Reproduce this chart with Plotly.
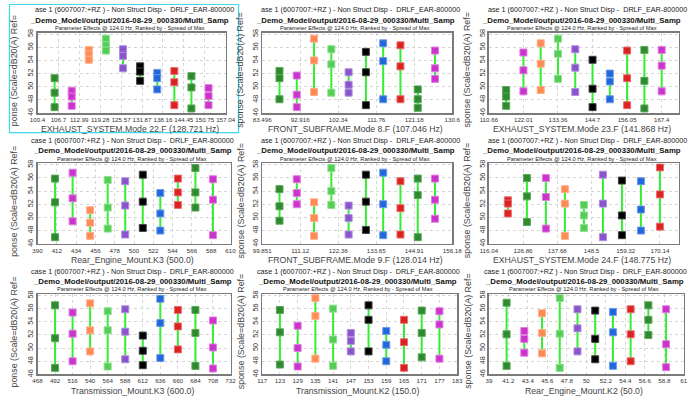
import plotly.graph_objects as go

W, H = 698, 401
FONT = "Liberation Sans, Arial, sans-serif"

# ---------------- data ----------------
title_line1 = "ase 1 (6007007:+RZ ) - Non Struct Disp -  DRLF_EAR-800000"
title_line1b = "case 1 (6007007:+RZ ) - Non Struct Disp -  DRLF_EAR-800000"
title_line2 = "_Demo_Model/output/2016-08-29_000330/Multi_Samp"
title_line3 = "Parameter Effects @ 124.0 Hz, Ranked by - Spread of Max"
ytitle_c1 = "ponse (Scale=dB20(A) Ref="
ytitle_c23 = "sponse (Scale=dB20(A) Ref="
y_ticks = [46, 48, 50, 52, 54, 56, 58]

x_titles = [
    "EXHAUST_SYSTEM.Mode 22.F (128.721 Hz)",
    "FRONT_SUBFRAME.Mode 8.F (107.046 Hz)",
    "EXHAUST_SYSTEM.Mode 23.F (141.868 Hz)",
    "Rear_Engine_Mount.K3 (500.0)",
    "FRONT_SUBFRAME.Mode 9.F (128.014 Hz)",
    "EXHAUST_SYSTEM.Mode 24.F (148.775 Hz)",
    "Transmission_Mount.K3 (600.0)",
    "Transmission_Mount.K2 (150.0)",
    "Rear_Engine_Mount.K2 (50.0)",
]

p1_ticks = ["100.4", "106.7", "112.99", "119.28", "125.57", "131.87", "138.16", "144.45", "150.75", "157.04"]
p2_ticks = ["83.496", "92.916", "102.34", "111.76", "121.18", "130.6"]
p3_ticks = ["110.66", "122.01", "133.36", "144.7", "156.05", "167.4"]
p4_ticks = ["390", "412", "434", "456", "478", "500", "522", "544", "566", "588", "610"]
p5_ticks = ["99.851", "111.12", "122.38", "133.65", "144.91", "156.18"]
p6_ticks = ["116.04", "126.86", "137.68", "148.5", "159.32", "170.14"]
p7_ticks = ["468", "492", "516", "540", "564", "588", "612", "636", "660", "684", "708", "732"]
p8_ticks = ["117", "123", "129", "135", "141", "147", "153", "159", "165", "171", "177", "183"]
p9_ticks = ["39", "41.2", "43.4", "45.6", "47.8", "50", "52.2", "54.4", "56.6", "58.8", "61"]

# tick label positions, in units of the level slot (levels sit at 1..n)
p1_tickpos = [0, 1.222, 2.444, 3.667, 4.889, 6.111, 7.333, 8.556, 9.778, 11]
p2_tickpos = [0, 2.2, 4.4, 6.6, 8.8, 11]
p3_tickpos = [0, 2, 4, 6, 8, 10]
p4_tickpos = [0, 1.1, 2.2, 3.3, 4.4, 5.5, 6.6, 7.7, 8.8, 9.9, 11]
p5_tickpos = [0, 2.2, 4.4, 6.6, 8.8, 11]
p6_tickpos = [0, 1.8, 3.6, 5.4, 7.2, 9.0]
p7_tickpos = [0, 1, 2, 3, 4, 5, 6, 7, 8, 9, 10, 11]
p8_tickpos = [0, 1, 2, 3, 4, 5, 6, 7, 8, 9, 10, 11]
p9_tickpos = [0, 1.1, 2.2, 3.3, 4.4, 5.5, 6.6, 7.7, 8.8, 9.9, 11]

seq10 = ["dg", "mg", "or", "lg", "pu", "bk", "bl", "rd", "dg", "mg"]
seq9 = ["rd", "dg", "mg", "or", "lg", "pu", "bk", "bl", "rd"]

p1_hi = [51.3, 49.4, 55.6, 57.3, 55.7, 53.1, 52.1, 52.4, 51.6, 49.8]
p1_mid = [49.1, 48.5, 54.9, 56.3, 54.7, 52.3, 51.3, 50.7, 49.9, 48.6]
p1_lo = [46.9, 47.1, 54.1, 55.5, 52.8, 50.9, 49.6, 47.2, 46.7, 47.2]

p2_hi = [52.4, 51.7, 57.3, 55.7, 52.2, 55.3, 56.6, 56.3, 49.6, 55.5]
p2_mid = [51.3, 48.8, 54.0, 53.4, 50.3, 52.2, 53.9, 53.1, 48.1, 52.8]
p2_lo = [48.1, 46.9, 49.2, 49.1, 49.1, 47.2, 48.1, 48.1, 46.8, 51.2]

p3_hi = [49.5, 55.2, 56.6, 57.3, 55.7, 54.1, 52.0, 55.5, 55.6, 55.6]
p3_mid = [48.5, 52.5, 53.5, 55.0, 52.9, 49.7, 50.8, 51.3, 50.9, 53.2]
p3_lo = [47.1, 49.3, 49.5, 51.2, 49.2, 46.9, 48.1, 47.2, 46.7, 49.3]

p4_hi = [55.9, 56.8, 51.1, 55.7, 55.5, 56.5, 53.7, 55.9, 57.5, 55.8]
p4_mid = [52.3, 52.9, 49.2, 51.5, 51.8, 52.4, 50.6, 53.8, 53.8, 52.7]
p4_lo = [47.0, 49.4, 47.2, 48.3, 47.4, 48.4, 48.0, 51.9, 51.5, 47.3]

p5_hi = [54.3, 55.8, 52.3, 57.5, 51.8, 56.5, 56.8, 55.5, 55.9, 55.9]
p5_mid = [51.7, 53.7, 49.9, 54.0, 49.9, 52.4, 52.0, 51.4, 53.4, 52.7]
p5_lo = [49.5, 52.0, 47.2, 51.9, 47.4, 48.1, 47.3, 47.4, 47.0, 49.8]

p6_hi = [52.6, 56.0, 56.0, 54.3, 51.9, 56.5, 55.6, 55.5, 57.6]
p6_mid = [52.1, 53.2, 53.1, 52.1, 50.3, 52.1, 50.3, 51.2, 53.5]
p6_lo = [50.6, 49.3, 48.3, 47.2, 48.4, 47.0, 47.3, 48.0, 48.6]

p7_hi = [56.5, 55.4, 56.8, 55.6, 55.9, 51.9, 57.5, 55.8, 55.8, 54.2]
p7_mid = [51.5, 52.2, 52.7, 52.7, 52.5, 49.6, 53.8, 53.3, 52.3, 50.1]
p7_lo = [47.0, 48.0, 49.5, 47.2, 48.3, 47.4, 48.5, 49.8, 47.3, 46.9]

p8_hi = [55.8, 53.4, 57.6, 56.0, 52.3, 56.5, 52.6, 54.3, 55.7, 55.6]
p8_mid = [52.4, 50.0, 54.9, 51.3, 51.1, 54.3, 50.5, 50.9, 52.3, 53.6]
p8_lo = [47.5, 47.2, 48.4, 47.3, 49.5, 49.5, 48.0, 47.0, 48.6, 48.4]

p9_hi = [56.9, 52.6, 55.3, 57.6, 55.9, 55.7, 55.5, 55.9, 56.5, 55.9]
p9_mid = [52.1, 51.4, 52.3, 52.2, 53.0, 51.4, 52.4, 52.1, 54.3, 50.6]
p9_lo = [47.3, 49.3, 49.2, 47.0, 49.5, 48.3, 47.3, 48.0, 52.0, 47.1]

# ---------------- styling ----------------
COLORS = {
    "dg": ("#2f8a2f", "#5aa85a"),
    "mg": ("#cc33cc", "#e07fe0"),
    "or": ("#ff8a55", "#ffb08a"),
    "lg": ("#55cc55", "#8ee08e"),
    "pu": ("#8a55cc", "#b08ee0"),
    "bk": ("#000000", "#444444"),
    "bl": ("#2266dd", "#6f9be8"),
    "rd": ("#dd2020", "#e87070"),
}
LINE_GREEN = "#33ee33"
FRAME = "#7a7a7a"
GRID = "#d6d6d6"

panels = [
    (p1_ticks, p1_tickpos, seq10, p1_hi, p1_mid, p1_lo),
    (p2_ticks, p2_tickpos, seq10, p2_hi, p2_mid, p2_lo),
    (p3_ticks, p3_tickpos, seq10, p3_hi, p3_mid, p3_lo),
    (p4_ticks, p4_tickpos, seq10, p4_hi, p4_mid, p4_lo),
    (p5_ticks, p5_tickpos, seq10, p5_hi, p5_mid, p5_lo),
    (p6_ticks, p6_tickpos, seq9, p6_hi, p6_mid, p6_lo),
    (p7_ticks, p7_tickpos, seq10, p7_hi, p7_mid, p7_lo),
    (p8_ticks, p8_tickpos, seq10, p8_hi, p8_mid, p8_lo),
    (p9_ticks, p9_tickpos, seq10, p9_hi, p9_mid, p9_lo),
]

# plot-frame pixel boxes (left, right, top, bottom)
frames = [
    (29.3, 222.7, 29.3, 111), (260.3, 455.7, 29.3, 111), (493.3, 688.7, 29.3, 111),
    (29.3, 227.7, 162.3, 244), (260.3, 455.7, 162.3, 244), (493.3, 688.7, 162.3, 244),
    (29.3, 227.7, 295.3, 377), (260.3, 460.7, 295.3, 377), (493.3, 693.7, 295.3, 377),
]
col_x0 = [0, 233, 466]
row_y0 = [0, 133, 266]


def px(x):
    return x / W


def py(y):
    return 1 - y / H


fig = go.Figure()
layout = {}
annotations = []

for k, (ticks, tickpos, seq, hi, mid, lo) in enumerate(panels):
    n = k + 1
    xa, ya = f"x{n}" if n > 1 else "x", f"y{n}" if n > 1 else "y"
    levels = list(range(1, len(hi) + 1))
    lx, ly = [], []
    for i, h, l in zip(levels, hi, lo):
        lx += [i, i, None]
        ly += [l, h, None]
    fig.add_trace(go.Scatter(x=lx, y=ly, mode="lines", xaxis=xa, yaxis=ya,
                             line=dict(color=LINE_GREEN, width=2), hoverinfo="skip",
                             showlegend=False))
    mx, my, mc, ml = [], [], [], []
    for i, c, h, m, l in zip(levels, seq, hi, mid, lo):
        for v in (h, m, l):
            mx.append(i)
            my.append(v)
            mc.append(COLORS[c][0])
            ml.append(COLORS[c][1])
    fig.add_trace(go.Scatter(x=mx, y=my, mode="markers", xaxis=xa, yaxis=ya,
                             marker=dict(symbol="square", size=7, color=mc,
                                         line=dict(color=ml, width=1)),
                             showlegend=False))

    left, right, top, bottom = frames[k]
    r, c = divmod(k, 3)
    x0, y0 = col_x0[c], row_y0[r]
    common = dict(showline=True, mirror=True, linecolor=FRAME, linewidth=1.5,
                  showgrid=True, gridcolor=GRID, griddash="dot", gridwidth=1,
                  zeroline=False, ticks="", fixedrange=True)
    layout[f"xaxis{n if n > 1 else ''}"] = dict(
        domain=[px(left), px(right)], range=[0, len(hi) + 1], anchor=ya,
        tickmode="array", tickvals=tickpos, ticktext=ticks, tickangle=0,
        tickfont=dict(family=FONT, size=6.2, color="#333333"), **common)
    layout[f"yaxis{n if n > 1 else ''}"] = dict(
        domain=[py(bottom), py(top)], range=[46, 58.2], anchor=xa,
        tickmode="array", tickvals=y_ticks, ticktext=[str(t) for t in y_ticks],
        tickangle=-90, tickfont=dict(family=FONT, size=7.2, color="#333333"), **common)

    cx = (left + right) / 2 - 2
    line1 = title_line1b if r == 2 or k == 3 else title_line1
    annotations += [
        dict(x=px(x0 + 233), y=py(y0 + 6), text=line1, xanchor="right", yanchor="middle",
             font=dict(family=FONT, size=7.2, color="#222222")),
        dict(x=px(cx), y=py(y0 + 16.5), text="<b>" + title_line2 + "</b>", xanchor="center",
             yanchor="middle", font=dict(family=FONT, size=7.8, color="#111111")),
        dict(x=px(cx), y=py(y0 + 24.5), text=title_line3, xanchor="center", yanchor="middle",
             font=dict(family=FONT, size=5.7, color="#222222")),
        dict(x=px(cx), y=py(y0 + 127.5), text=x_titles[k], xanchor="center", yanchor="middle",
             font=dict(family=FONT, size=8.7, color="#444444")),
        dict(x=px(x0 + 5), y=py(y0 + 67.5), text=ytitle_c1 if c == 0 else ytitle_c23,
             textangle=-90, xanchor="center", yanchor="middle",
             font=dict(family=FONT, size=8.9, color="#444444")),
    ]

for a in annotations:
    a.update(xref="paper", yref="paper", showarrow=False)

fig.update_layout(
    width=W, height=H, margin=dict(l=0, r=0, t=0, b=0),
    paper_bgcolor="white", plot_bgcolor="white",
    annotations=annotations,
    shapes=[dict(type="rect", xref="paper", yref="paper",
                 x0=px(0.5), x1=px(236), y0=py(131), y1=py(0.5),
                 line=dict(color="#3cd8ee", width=1.2))],
    **layout,
)

fig.write_html(
    "out.html",
    config={"displayModeBar": False, "staticPlot": True},
    post_script="document.body.style.margin='0';document.body.style.overflow='hidden';",
)
